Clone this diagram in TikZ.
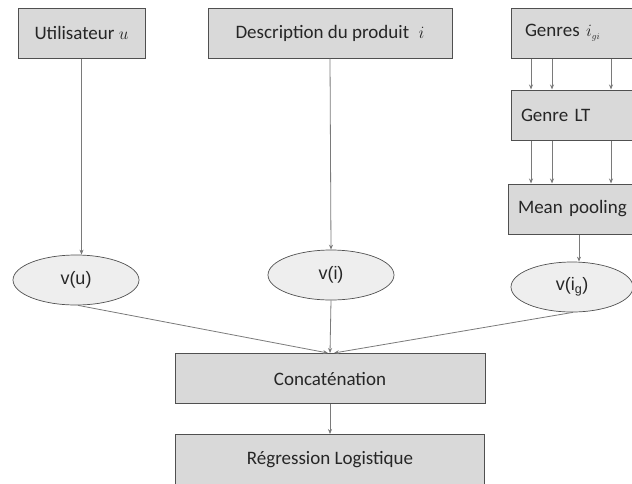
\documentclass[tikz,border=0pt]{standalone}
\usepackage{fontspec}
\setmainfont{Carlito}
\newfontfamily\vecfont{Liberation Sans}
\usetikzlibrary{shapes.geometric, arrows.meta, positioning}
\definecolor{boxgray}{HTML}{D9D9D9}
\definecolor{boxline}{HTML}{505050}
\definecolor{ellgray}{HTML}{EEEEEE}
\definecolor{arrowgray}{HTML}{7A7A7A}
\definecolor{textgray}{HTML}{262626}

\begin{document}
\begin{tikzpicture}[
    x=1pt, y=-1pt,
    box/.style={rectangle, draw=boxline, fill=boxgray, line width=1pt, minimum height=50pt, inner sep=0pt, text=textgray, font=\fontsize{19}{22}\selectfont},
    sidebox/.style={box, text width=#1, align=left, inner xsep=10pt},
    vect/.style={ellipse, draw=boxline, fill=ellgray, line width=0.7pt, minimum width=126pt, minimum height=50pt, inner sep=0pt, text=textgray, font=\vecfont\fontsize{18}{20}\selectfont},
    arrow/.style={-{Stealth[length=5pt, width=4pt]}, line width=0.8pt, color=arrowgray}
]
\useasboundingbox (0,0) rectangle (632,483);

\node[box, minimum width=127pt] (user) at (81.5,33) {Utilisateur $u$};
\node[box, minimum width=244pt] (desc) at (330,33) {Description du produit\enspace$i$};
\node[sidebox=110pt] (genres) at (576,33) {\hspace{4pt}Genres $i_{\scriptscriptstyle gi}$};
\node[sidebox=110pt, below=31pt of genres] (genrelt) {Genre LT};
\node[sidebox=112pt, below=43pt of genrelt, xshift=-2pt] (pool) {Mean pooling};

\node[vect] (vu) at (76,280) {v(u)};
\node[vect] (vi) at (331,275) {v(i)};
\node[vect, minimum width=122pt] (vg) at (572,287) {v(i\textsubscript{g})};

\node[box, minimum width=310pt] (concat) at (330,378.5) {Concaténation};
\node[box, minimum width=309pt, below=30pt of concat] (reg) {Régression Logistique};

\draw[arrow] (user.south) -- (user.south |- vu.north);
\draw[arrow] (desc.south) -- (vi.north);
\foreach \dx in {-45,-24,35} {
  \draw[arrow] ([xshift=\dx pt]genres.south) -- ([xshift=\dx pt]genrelt.north);
  \draw[arrow] ([xshift=\dx pt]genrelt.south) -- ([xshift=\dx pt]genrelt.south |- pool.north);
}
\draw[arrow] ([xshift=5pt]pool.south) -- ([xshift=5pt]pool.south |- vg.north);
\draw[arrow] ([xshift=2pt]vu.south) -- ([xshift=-2pt]concat.north);
\draw[arrow] (vi.south) -- (concat.north);
\draw[arrow] ([xshift=1pt]vg.south) -- ([xshift=4pt]concat.north);
\draw[arrow] (concat) -- (reg);
\end{tikzpicture}
\end{document}
